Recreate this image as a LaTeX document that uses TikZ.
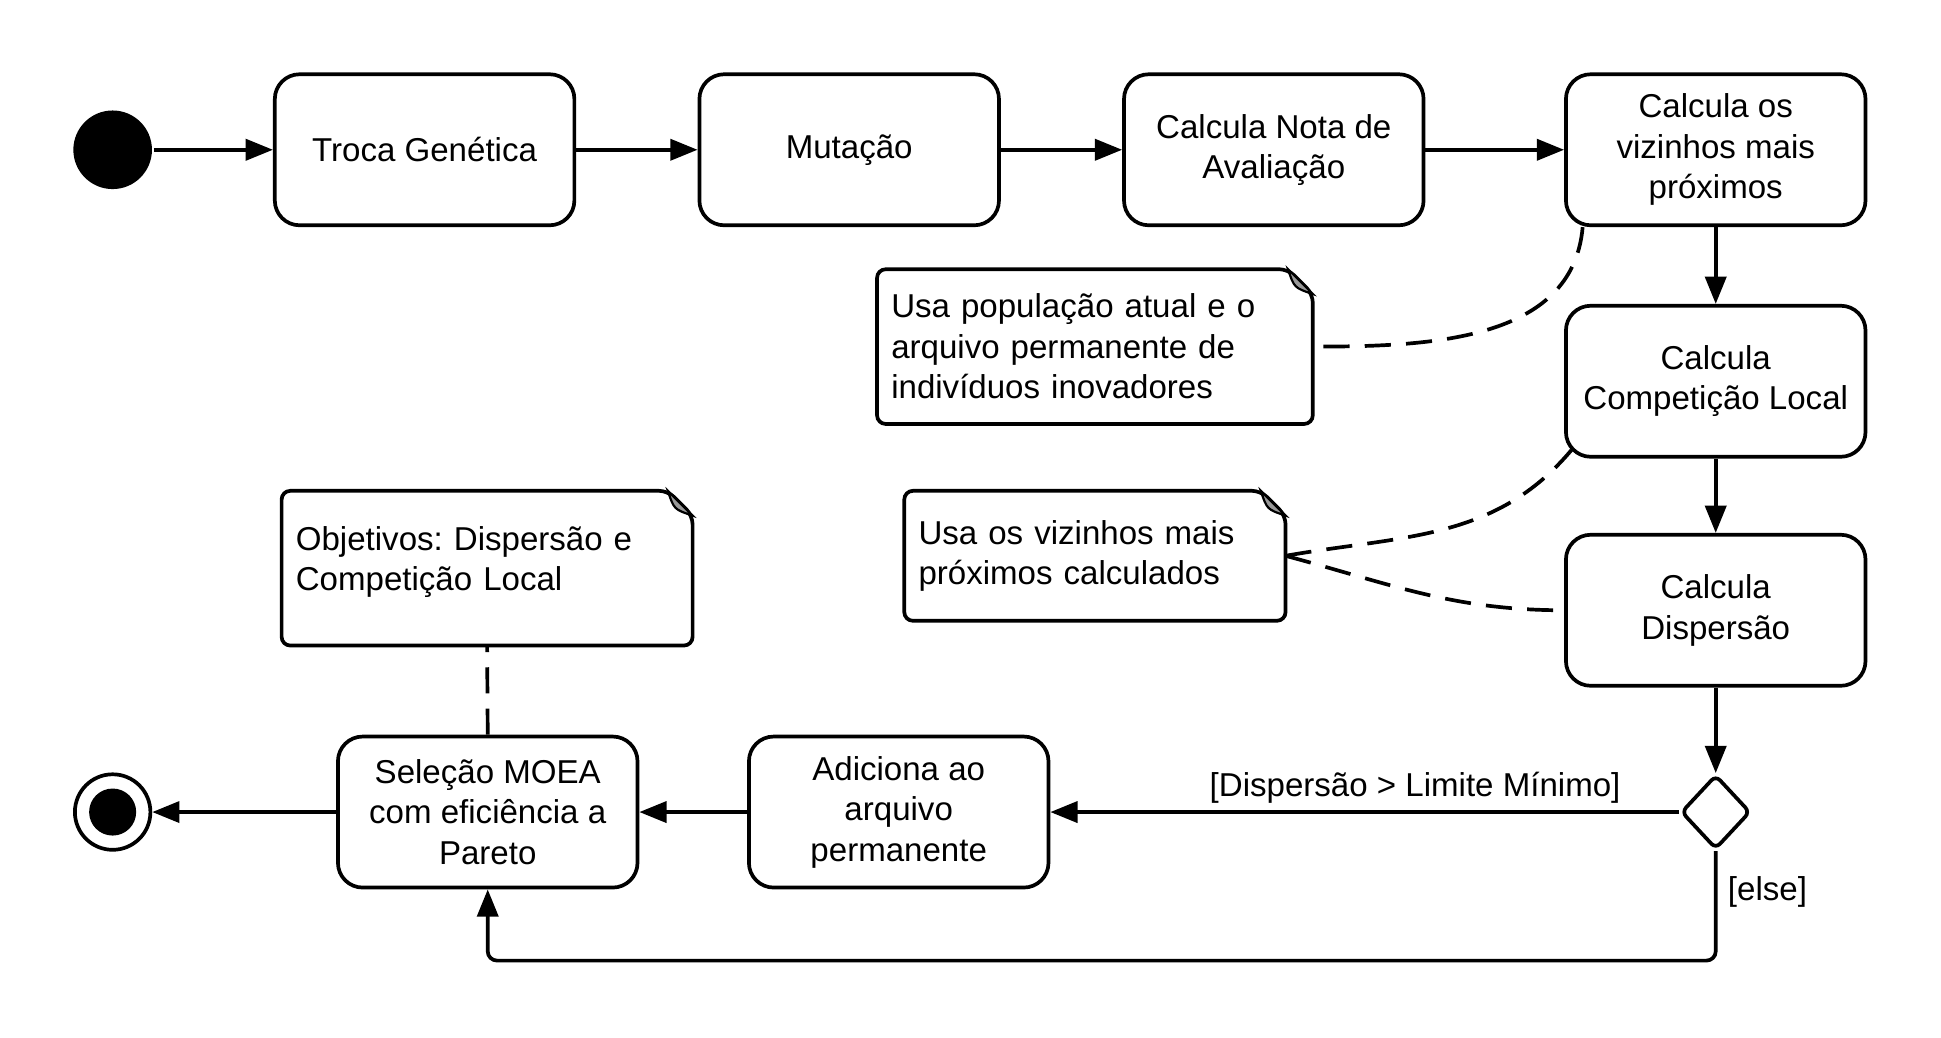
\documentclass[tikz,border=0pt]{standalone}
\usepackage{fontspec}
\setmainfont{Liberation Sans}
\usetikzlibrary{arrows.meta,shapes.geometric}
\frenchspacing

\begin{document}
\begin{tikzpicture}[font=\fontsize{15.2}{18.6}\selectfont, line width=1.7pt]
\tikzstyle{activity}=[draw, rounded corners=0.4cm, minimum width=4.84cm, minimum height=2.44cm, align=center, inner sep=2pt]
\tikzstyle{notetext}=[align=left, inner xsep=0.2cm, inner ysep=0pt]
\tikzstyle{flow}=[-{Triangle[length=0.44cm, width=0.34cm]}]
\tikzstyle{anchorline}=[dash pattern=on 12pt off 7pt]
\useasboundingbox (0,0) rectangle (31.36,-16.755);
% start and end
\node[circle, fill=black, minimum size=1.27cm, inner sep=0pt] (start) at (1.82,-2.42) {};
\node[circle, draw, fill=white, minimum size=1.22cm, inner sep=0pt] (stop) at (1.82,-13.12) {};
\fill[black] (stop.center) circle (0.38); %inner dot
% activities
\node[activity] (troca) at (6.86,-2.42) {Troca Genética};
\node[activity] (mutacao) at (13.72,-2.42) {Mutação};
\node[activity] (nota) at (20.58,-2.42) {Calcula Nota de\\Avaliação};
\node[activity] (vizinhos) at (27.72,-2.42) {Calcula os\\vizinhos mais\\próximos};
\node[activity] (competicao) at (27.72,-6.16) {Calcula\\Competição Local};
\node[activity] (dispersao) at (27.72,-9.86) {Calcula\\Dispersão};
\node[diamond, draw, rounded corners=0.1cm, minimum width=1.12cm, minimum height=1.2cm, inner sep=0pt] (decisao) at (27.72,-13.12) {};
\node[activity] (adiciona) at (14.52,-13.12) {Adiciona ao\\arquivo\\permanente};
\node[activity] (selecao) at (7.88,-13.12) {Seleção MOEA\\com eficiência a\\Pareto};
% notes
\node[notetext, text width=6.58cm, minimum height=2.44cm] (usapop) at (17.69,-5.6) {Usa população atual e o\\arquivo permanente de\\indivíduos inovadores};
\node[notetext, text width=5.7cm, minimum height=2.04cm] (usaviz) at (17.69,-8.98) {Usa os vizinhos mais\\próximos calculados};
\node[notetext, text width=6.18cm, minimum height=2.44cm] (objetivos) at (7.87,-9.18) {Objetivos: Dispersão e\\Competição Local\vspace{0.2cm}};
\foreach \n in {usapop,usaviz,objetivos} {
  \draw[rounded corners=0.14cm] (\n.north west) -- ([xshift=-0.4cm]\n.north east) -- ([yshift=-0.4cm]\n.north east) -- (\n.south east) -- (\n.south west) -- cycle;
  \filldraw[fill=gray!80, line width=1pt] ([xshift=-0.4cm]\n.north east) .. controls ([shift={(-0.3,-0.3)}]\n.north east) .. ([yshift=-0.4cm]\n.north east) -- cycle; %folded corner
}
% control flow
\draw[flow] (start) -- (troca);
\draw[flow] (troca) -- (mutacao);
\draw[flow] (mutacao) -- (nota);
\draw[flow] (nota) -- (vizinhos);
\draw[flow] (vizinhos) -- (competicao);
\draw[flow] (competicao) -- (dispersao);
\draw[flow] (dispersao) -- (decisao);
\draw[flow] (decisao) -- node[above, pos=0.42] {[Dispersão > Limite Mínimo]} (adiciona);
\draw[flow] (adiciona) -- (selecao);
\draw[flow] (selecao) -- (stop);
\coordinate (elseturn) at (27.72,-15.52);
\draw[flow, rounded corners=0.15cm] (decisao.south) -- node[right, pos=0.37, xshift=0.05cm] {[else]} (elseturn) -| (selecao.south);
% note attachments
\draw[anchorline] ([xshift=0.3cm]vizinhos.south west) to[out=-95, in=0] (usapop.east);
\draw[anchorline] (usaviz.east) to[out=10, in=230] ([shift={(0.12,0.14)}]competicao.south west);
\draw[anchorline] (usaviz.east) to[out=-15, in=180] (dispersao.west);
\draw[anchorline] (selecao.north) -- (objetivos.south);
\end{tikzpicture}
\end{document}
